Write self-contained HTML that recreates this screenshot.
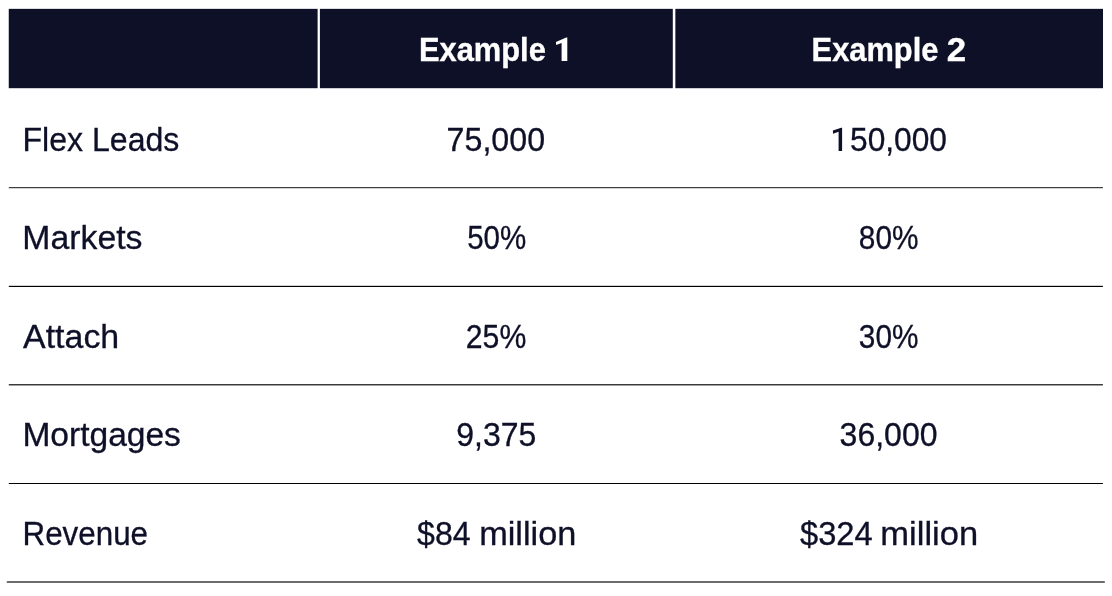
<!DOCTYPE html>
<html><head><meta charset="utf-8">
<style>
html,body{margin:0;padding:0;background:#fff;}
body{width:1112px;height:596px;position:relative;overflow:hidden;font-family:"Liberation Sans",sans-serif;color:#0e1028;}
.t i{visibility:hidden;font-style:normal;}
.t{position:absolute;white-space:nowrap;font-size:32px;line-height:40px;height:40px;transform-origin:0 31.09px;}
#w{position:absolute;left:0;top:0;width:1112px;height:596px;background:#fff;will-change:transform;}
.t{-webkit-text-stroke:0.3px #0e1028;}
.b{font-weight:bold;color:#fff;-webkit-text-stroke:0.35px #fff;}
</style></head><body><div id="w">
<svg style="position:absolute;left:0;top:0" width="1112" height="596" viewBox="0 0 1112 596">
<g fill="#0e1028">
<rect x="8.75" y="8.85" width="308.85" height="79.35"/>
<rect x="319.9" y="8.85" width="352.9" height="79.35"/>
<rect x="675.35" y="8.85" width="427.65" height="79.35"/>
</g>
<rect x="8.8" y="187" width="1094.1" height="1" fill="#3e3e3e"/>
<rect x="8.8" y="188" width="1094.1" height="1" fill="#d2d2d2"/>
<rect x="8.8" y="285" width="1094.1" height="1" fill="#cfcfcf"/>
<rect x="8.8" y="286" width="1094.1" height="1" fill="#000"/>
<rect x="8.8" y="384" width="1094.1" height="1" fill="#3a3a3a"/>
<rect x="8.8" y="385" width="1094.1" height="1" fill="#a0a0a0"/>
<rect x="8.8" y="483" width="1094.1" height="1" fill="#000"/>
<rect x="6.8" y="581" width="1098" height="2" fill="#6c6c6c"/>
</svg>
<div class="t b" style="left:418px;top:30px;transform:translate(0.97px,0.00px) scale(0.9639,1.0375)">Example <i>1</i></div>
<div class="t b" style="left:811px;top:30px;transform:translate(0.57px,0.00px) scale(0.9631,1.0375)">Example</div>
<div class="t b" style="left:946px;top:30px;transform:translate(0.81px,0.00px) scale(1.0857,1.0375)">2</div>
<div class="t" style="left:22px;top:120px;transform:translate(0.50px,0.00px) scale(1.0020,1.0209)">Flex Leads</div>
<div class="t" style="left:446px;top:120px;transform:translate(0.59px,0.00px) scale(1.0058,1.0209)">75,000</div>
<div class="t" style="left:832px;top:120px;transform:translate(0.38px,0.00px) scale(0.9906,1.0209)"><i>1</i>50,000</div>
<div class="t" style="left:22px;top:218px;transform:translate(0.36px,0.00px) scale(1.0558,1.0297)">Markets</div>
<div class="t" style="left:467px;top:218px;transform:translate(0.15px,0.00px) scale(0.9231,1.0297)">50%</div>
<div class="t" style="left:858px;top:218px;transform:translate(0.84px,0.00px) scale(0.9312,1.0297)">80%</div>
<div class="t" style="left:23px;top:317px;transform:translate(0.10px,0.00px) scale(1.0592,1.0209)">Attach</div>
<div class="t" style="left:465px;top:317px;transform:translate(0.78px,0.00px) scale(0.9447,1.0209)">25%</div>
<div class="t" style="left:858px;top:317px;transform:translate(0.87px,0.00px) scale(0.9306,1.0209)">30%</div>
<div class="t" style="left:22px;top:415px;transform:translate(0.38px,0.00px) scale(1.0484,1.0297)">Mortgages</div>
<div class="t" style="left:456px;top:415px;transform:translate(0.25px,0.00px) scale(0.9994,1.0297)">9,375</div>
<div class="t" style="left:839px;top:415px;transform:translate(0.60px,0.00px) scale(1.0005,1.0297)">36,000</div>
<div class="t" style="left:22px;top:514px;transform:translate(0.55px,0.00px) scale(0.9795,1.0297)">Revenue</div>
<div class="t" style="left:417px;top:514px;transform:translate(0.05px,0.00px) scale(1.0019,1.0297)">$84</div>
<div class="t" style="left:479px;top:514px;transform:translate(0.16px,0.00px) scale(1.0720,1.0297)">million</div>
<div class="t" style="left:800px;top:514px;transform:translate(0.04px,0.00px) scale(1.0206,1.0297)">$324</div>
<div class="t" style="left:880px;top:514px;transform:translate(0.34px,0.00px) scale(1.0790,1.0297)">million</div>
<svg style="position:absolute;left:0;top:0" width="1112" height="596" viewBox="0 0 1112 596">
<polygon fill="#fff" points="567.3,37.4 567.3,60.9 561.6,60.9 561.6,43.1 556.2,44.9 555.9,41.9 566.2,37.4"/>
<polygon fill="#0e1028" points="842.1,127.7 842.1,150.9 838.6,150.9 838.6,131.8 833.0,133.8 832.9,130.5 841.2,127.7"/>
</svg>
</div></body></html>
